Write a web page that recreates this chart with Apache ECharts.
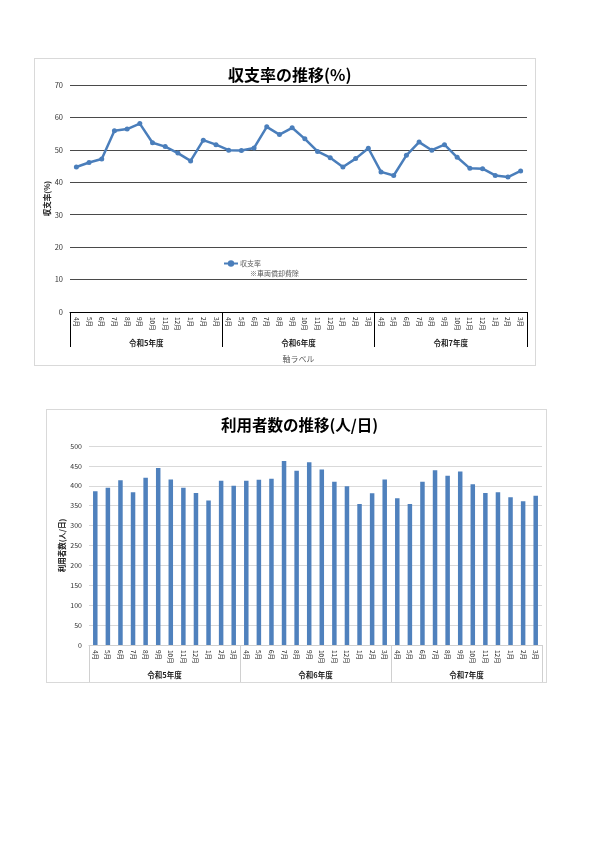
<!DOCTYPE html>
<html><head><meta charset="utf-8">
<script src="https://cdn.jsdelivr.net/npm/echarts@6/dist/echarts.min.js"></script>
<style>
body{margin:0;background:#fff;width:600px;height:848px;position:relative;overflow:hidden;}
#c1{position:absolute;left:34px;top:58px;width:500px;height:306px;border:1px solid #d9d9d9;}
#c2{position:absolute;left:46px;top:409px;width:499px;height:272px;border:1px solid #d9d9d9;}
</style></head>
<body>
<div id="c1"></div>
<div id="c2"></div>
<script>
const months = ['4月','5月','6月','7月','8月','9月','10月','11月','12月','1月','2月','3月',
                '4月','5月','6月','7月','8月','9月','10月','11月','12月','1月','2月','3月',
                '4月','5月','6月','7月','8月','9月','10月','11月','12月','1月','2月','3月'];
const fiscalYears = ['令和5年度','令和6年度','令和7年度'];
const ratioValues = [44.7,46.1,47.2,55.9,56.4,58.1,52.2,51.0,49.0,46.6,53.0,51.6,
                     49.9,49.8,50.6,57.1,54.7,56.8,53.4,49.5,47.6,44.7,47.3,50.5,
                     43.2,42.1,48.3,52.4,49.9,51.6,47.7,44.3,44.2,42.1,41.6,43.5];
const userValues = [386,395,414,384,420,445,416,395,382,363,413,400,
                    413,415,418,462,438,459,441,410,399,354,381,416,
                    369,354,410,439,425,436,404,382,384,371,361,375];
const ratioTicks = {min:0, max:70, interval:10};
const userTicks = {min:0, max:500, interval:50};

const FONT = '"Noto Sans CJK JP", "Noto Sans", sans-serif';
const BLUE = '#4A7EBB';

function monthAxis(lineColor) {
  return {
    type:'category', data: months, position:'bottom', boundaryGap:true,
    axisLine:{show:true, lineStyle:{color:lineColor, width:1}},
    axisTick:{show:false},
    axisLabel:{interval:0, rotate:-90, fontSize:6.5, color:'#222', margin:5, fontFamily:FONT},
    splitLine:{show:false}
  };
}
function groupAxis(lineColor, offset, margin, name) {
  return {
    type:'category', data: fiscalYears, position:'bottom', offset: offset, boundaryGap:true,
    axisLine:{show:false},
    axisTick:{show:true, inside:true, length:offset, interval:0, lineStyle:{color:lineColor, width:1}},
    axisLabel:{inside:true, interval:0, margin:margin, fontSize:7.5, color:'#222', fontWeight:'bold', fontFamily:FONT},
    name: name, nameLocation:'middle', nameGap:8, nameMoveOverlap:false,
    nameTextStyle:{fontSize:8, color:'#595959', fontFamily:FONT}
  };
}

const chart1 = echarts.init(document.getElementById('c1'), null, {renderer:'canvas'});
chart1.setOption({
  animation:false,
  title:[
    {text:'収支率の推移(%)', left:188, top:3,
     textStyle:{fontSize:16, fontWeight:'bold', color:'#000', fontFamily:FONT}},
    {text:'※車両償却費除', left:210, top:206,
     textStyle:{fontSize:7, fontWeight:'normal', color:'#595959', fontFamily:FONT}}
  ],
  legend:{left:183, top:196, itemWidth:14, itemHeight:8, itemGap:4,
    textStyle:{fontSize:7, color:'#595959', fontFamily:FONT, padding:[0,0,0,-3]},
    data:['収支率']},
  grid:{left:35, right:8, top:26, bottom:53, containLabel:false, outerBoundsMode:'none'},
  xAxis:[monthAxis('#000'), groupAxis('#000', 35, 0, '軸ラベル')],
  yAxis:{type:'value', min:ratioTicks.min, max:ratioTicks.max, interval:ratioTicks.interval,
    name:'収支率(%)', nameLocation:'middle', nameGap:19, nameMoveOverlap:false,
    nameTextStyle:{fontSize:7.5, fontWeight:'bold', color:'#222', fontFamily:FONT},
    axisLine:{show:false}, axisTick:{show:false},
    axisLabel:{fontSize:7.5, color:'#333', margin:7, fontFamily:FONT},
    splitLine:{show:true, lineStyle:{color:'#4a4a4a', width:1.2}}},
  series:[{name:'収支率', type:'line', data:ratioValues, xAxisIndex:0,
    symbol:'circle', symbolSize:5, showSymbol:true,
    itemStyle:{color:BLUE}, lineStyle:{color:BLUE, width:2.5}}]
});

const chart2 = echarts.init(document.getElementById('c2'), null, {renderer:'canvas'});
chart2.setOption({
  animation:false,
  title:{text:'利用者数の推移(人/日)', left:169, top:2,
     textStyle:{fontSize:15.5, fontWeight:'bold', color:'#000', fontFamily:FONT}},
  grid:{left:42, right:4, top:36, bottom:37, containLabel:false, outerBoundsMode:'none'},
  xAxis:[monthAxis('#d0d0d0'), groupAxis('#d0d0d0', 37, 3, '')],
  yAxis:{type:'value', min:userTicks.min, max:userTicks.max, interval:userTicks.interval,
    name:'利用者数(人/日)', nameLocation:'middle', nameGap:23, nameMoveOverlap:false,
    nameTextStyle:{fontSize:7.5, fontWeight:'bold', color:'#222', fontFamily:FONT},
    axisLine:{show:false}, axisTick:{show:false},
    axisLabel:{fontSize:7, color:'#333', margin:7, fontFamily:FONT},
    splitLine:{show:true, lineStyle:{color:'#d9d9d9', width:1}}},
  series:[{name:'利用者数', type:'bar', data:userValues, xAxisIndex:0,
    barWidth:4.5, itemStyle:{color:'#4F81BD'}}]
});
</script>
</body></html>
